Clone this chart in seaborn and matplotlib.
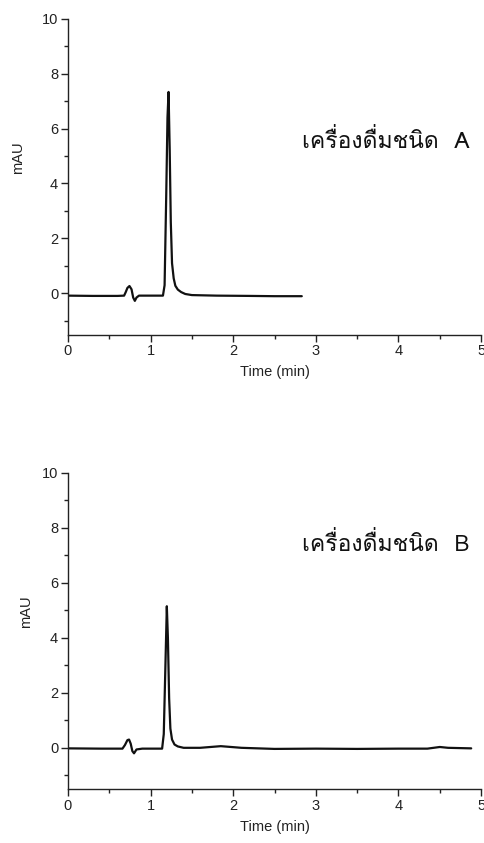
import matplotlib
matplotlib.use("Agg")
import matplotlib.pyplot as plt
from matplotlib import font_manager
from matplotlib.ft2font import FT2Font
from matplotlib.ticker import MultipleLocator
import pandas as pd
import seaborn as sns

# Chromatogram A
time_a = [0.00, 0.30, 0.60, 0.68, 0.70, 0.72, 0.745, 0.77, 0.79, 0.81, 0.83, 0.86,
          1.00, 1.15, 1.17, 1.19, 1.205, 1.218, 1.232, 1.245, 1.26, 1.28, 1.30,
          1.33, 1.37, 1.42, 1.50, 1.80, 2.20, 2.50, 2.83]
mau_a = [-0.08, -0.09, -0.09, -0.08, 0.05, 0.20, 0.27, 0.15, -0.15, -0.27, -0.15, -0.08,
         -0.08, -0.08, 0.30, 3.60, 6.40, 7.33, 5.20, 2.60, 1.10, 0.55, 0.28,
         0.14, 0.05, -0.02, -0.06, -0.08, -0.09, -0.10, -0.10]

# Chromatogram B
time_b = [0.00, 0.40, 0.66, 0.69, 0.72, 0.74, 0.76, 0.78, 0.80, 0.83, 0.90,
          1.14, 1.16, 1.18, 1.197, 1.21, 1.225, 1.24, 1.26, 1.29, 1.33, 1.40,
          1.60, 1.85, 2.10, 2.50, 3.00, 3.50, 4.00, 4.35, 4.50, 4.60, 4.88]
mau_b = [-0.02, -0.03, -0.03, 0.10, 0.28, 0.30, 0.15, -0.12, -0.20, -0.06, -0.03,
         -0.03, 0.50, 3.00, 5.15, 4.00, 1.80, 0.70, 0.30, 0.12, 0.05, 0.00,
         0.00, 0.06, 0.00, -0.04, -0.03, -0.04, -0.03, -0.03, 0.03, 0.00, -0.02]

labels = ["เครื่องดื่มชนิด  A", "เครื่องดื่มชนิด  B"]
label_y = [0.612, 0.775]
ylab_x = [-0.104, -0.085]

sns.set_style("ticks")
plt.rcParams['font.family'] = ['Liberation Sans', 'DejaVu Sans']


def thai_font():
    # look for any installed font that has Thai glyphs
    for f in font_manager.fontManager.ttflist:
        try:
            if 0x0E04 in FT2Font(f.fname).get_charmap():
                return f.name
        except Exception:
            pass
    return None


tf = thai_font()
thai_family = [tf, 'Liberation Sans'] if tf else ['Liberation Sans', 'DejaVu Sans']

fig = plt.figure(figsize=(4.85, 8.43), dpi=100)
ax_top = fig.add_axes([0.140, 0.603, 0.852, 0.375])
ax_bot = fig.add_axes([0.140, 0.064, 0.852, 0.375])

data = [(time_a, mau_a), (time_b, mau_b)]
for ax, (t, v), lab, ly, lx in zip([ax_top, ax_bot], data, labels, label_y, ylab_x):
    df = pd.DataFrame({'Time': t, 'mAU': v})
    sns.lineplot(data=df, x='Time', y='mAU', ax=ax, color='#111111', lw=1.6,
                 sort=False, estimator=None)
    ax.set_xlim(0, 5)
    ax.set_ylim(-1.5, 10)
    ax.xaxis.set_major_locator(MultipleLocator(1))
    ax.xaxis.set_minor_locator(MultipleLocator(0.5))
    ax.yaxis.set_major_locator(MultipleLocator(2))
    ax.yaxis.set_minor_locator(MultipleLocator(1))
    ax.tick_params(which='major', length=5, width=1, labelsize=10.5, pad=2, colors='#222222')
    ax.tick_params(which='minor', length=3, width=1, colors='#222222')
    sns.despine(ax=ax)
    for s in ['left', 'bottom']:
        ax.spines[s].set_linewidth(1)
        ax.spines[s].set_color('#222222')
    ax.set_xlabel('Time (min)', fontsize=10.5, labelpad=5, color='#222222')
    ax.set_ylabel('mAU', fontsize=10.5, color='#222222')
    ax.yaxis.set_label_coords(lx, 0.56)
    ax.text(0.973, ly, lab, transform=ax.transAxes, ha='right', va='center',
            fontsize=16.5, family=thai_family, fontweight='light', color='#111111')

fig.savefig('out.png', dpi=100)
